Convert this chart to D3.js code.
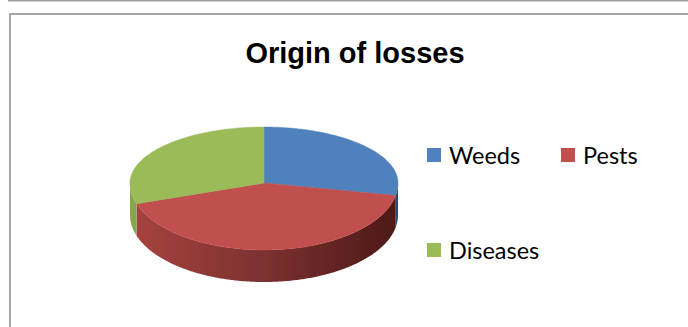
<!DOCTYPE html>
<html><head><meta charset="utf-8">
<script src="https://cdn.jsdelivr.net/npm/d3@7"></script>
<style>body{margin:0;background:#fff;overflow:hidden}</style>
</head><body><svg id="c" width="688" height="327"></svg>
<script>
const title = "Origin of losses";
const categories = ["Weeds", "Pests", "Diseases"];
const values = [28, 42, 30];
const topColors = ["#4F81BD", "#C0504D", "#9BBB59"];
const sideLight = ["#416ea3", "#a8433f", "#8aa64c"];
const sideMid = ["#36608f", "#7c3130", "#6f8a3a"];
const sideDark = ["#284a70", "#4c1917", "#566b2c"];

const svg = d3.select("#c");
svg.append("line").attr("x1", 8).attr("x2", 688).attr("y1", 0.75).attr("y2", 0.75)
  .attr("stroke", "#a0a0a0").attr("stroke-width", 1.5);
svg.append("path").attr("d", "M10,327 V14 H688").attr("fill", "none")
  .attr("stroke", "#a6a6a6").attr("stroke-width", 2);

svg.append("text").attr("x", 355).attr("y", 63).attr("text-anchor", "middle")
  .attr("font-family", "Liberation Sans, Arial, sans-serif").attr("font-weight", "bold")
  .attr("font-size", 29).attr("fill", "#000").text(title);

const cx = 264, cy = 183, rx = 134, ryT = 56, ryB = 67, depth = 32;
function P(a, z = 0) { const v = -Math.cos(a); return [cx + rx * Math.sin(a), cy + v * (v < 0 ? ryT : ryB) + z]; }
function samples(a0, a1) { const s = d3.range(a0, a1, 0.01); s.push(a1); return s; }

const defs = svg.append("defs");
defs.append("filter").attr("id", "soft").append("feGaussianBlur").attr("stdDeviation", 0.6);
categories.forEach((c, i) => {
  const g = defs.append("linearGradient").attr("id", "side" + i).attr("gradientUnits", "userSpaceOnUse")
    .attr("x1", cx - rx).attr("x2", cx + rx).attr("y1", 0).attr("y2", 0);
  g.append("stop").attr("offset", 0).attr("stop-color", sideLight[i]);
  g.append("stop").attr("offset", 0.5).attr("stop-color", sideMid[i]);
  g.append("stop").attr("offset", 1).attr("stop-color", sideDark[i]);
});

const arcs = d3.pie().sort(null).value(d => d)(values);
const line = d3.line();
const pie = svg.append("g").attr("filter", "url(#soft)");

arcs.forEach((d, i) => {
  const a0 = Math.max(d.startAngle, Math.PI / 2), a1 = Math.min(d.endAngle, 3 * Math.PI / 2);
  if (a1 <= a0) return;
  const s = samples(a0, a1);
  const pts = s.map(a => P(a)).concat(s.slice().reverse().map(a => P(a, depth)));
  pie.append("path").attr("d", line(pts) + "Z").attr("fill", `url(#side${i})`);
});
arcs.forEach((d, i) => {
  const pts = [[cx, cy]].concat(samples(d.startAngle, d.endAngle).map(a => P(a)));
  pie.append("path").attr("d", line(pts) + "Z").attr("fill", topColors[i])
    .attr("stroke", topColors[i]).attr("stroke-width", 0.5);
});

const legendPos = [[427, 148], [561, 148], [427, 243]];
const lg = svg.append("g");
categories.forEach((c, i) => {
  const [x, y] = legendPos[i];
  lg.append("rect").attr("x", x).attr("y", y).attr("width", 14).attr("height", 14).attr("fill", topColors[i]);
  lg.append("text").attr("x", x + 22).attr("y", y + 15.5).attr("font-family", "Lato, sans-serif")
    .attr("font-size", 23.5).attr("fill", "#000").text(c);
});
</script></body></html>
